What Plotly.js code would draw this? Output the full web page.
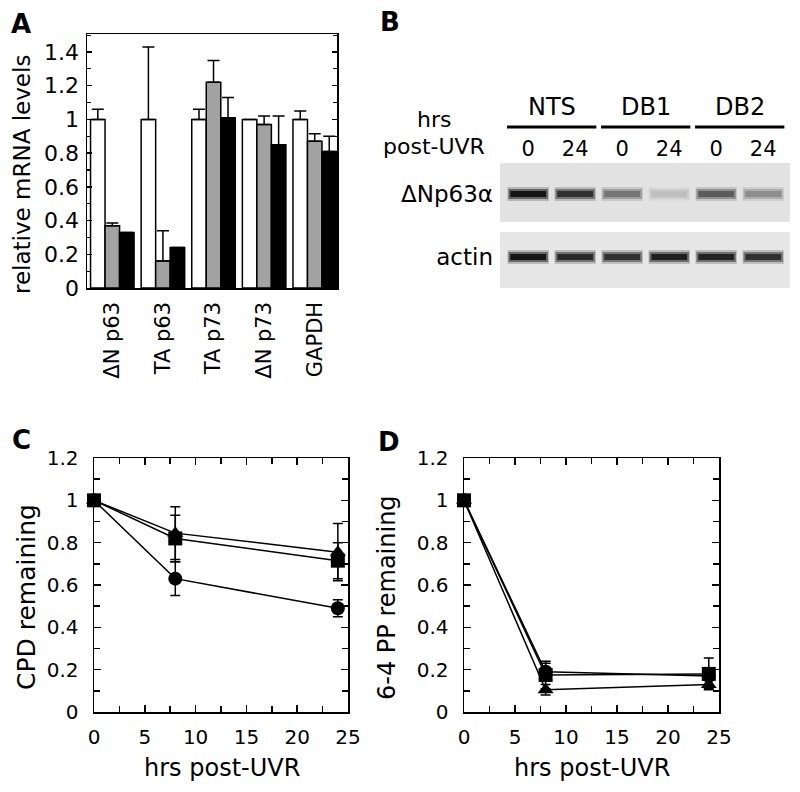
<!DOCTYPE html>
<html><head><meta charset="utf-8">
<script src="https://cdn.plot.ly/plotly-3.0.1.min.js"></script>
<style>body{margin:0;background:#fff}</style>
</head><body><div id="chart" style="width:800px;height:792px"></div>
<script>
// ---------- Panel A: relative mRNA levels ----------
const genes = ["ΔN p63", "TA p63", "TA p73", "ΔN p73", "GAPDH"];
const mrnaWhite    = [1.00, 1.00, 1.00, 1.00, 1.00];
const mrnaWhiteErr = [0.06, 0.43, 0.06, 0.00, 0.05];
const mrnaGray     = [0.37, 0.16, 1.22, 0.97, 0.87];
const mrnaGrayErr  = [0.015, 0.18, 0.13, 0.05, 0.045];
const mrnaBlack    = [0.33, 0.24, 1.01, 0.85, 0.81];
const mrnaBlackErr = [0.00, 0.00, 0.12, 0.17, 0.09];

// ---------- Panel B: western blot ----------
const laneGroups = ["NTS", "DB1", "DB2"];
const laneHours  = ["0", "24", "0", "24", "0", "24"];
const blotRows   = ["ΔNp63α", "actin"];
const dNp63Band  = [0.95, 0.82, 0.50, 0.15, 0.62, 0.38];
const actinBand  = [0.95, 0.85, 0.82, 0.90, 0.88, 0.82];

// ---------- Panels C and D ----------
const hours = [0, 8, 24];
const cpdCircle      = [1.00, 0.63, 0.49];
const cpdCircleErr   = [0.00, 0.08, 0.04];
const cpdTriangle    = [1.00, 0.845, 0.755];
const cpdTriangleErr = [0.00, 0.125, 0.135];
const cpdSquare      = [1.00, 0.82, 0.715];
const cpdSquareErr   = [0.00, 0.11, 0.085];

const ppCircle      = [1.00, 0.19, 0.17];
const ppCircleErr   = [0.00, 0.04, 0.02];
const ppTriangle    = [1.00, 0.105, 0.13];
const ppTriangleErr = [0.00, 0.025, 0.02];
const ppSquare      = [1.00, 0.175, 0.18];
const ppSquareErr   = [0.00, 0.065, 0.075];

const FONT = "DejaVu Sans, Arial, sans-serif";
const W = 800, H = 792;
const px = v => v / W;
const py = v => 1 - v / H;

const traces = [];
const zeros = genes.map(() => 0);
function barTrace(vals, errs, color) {
  return {
    type: "bar", x: genes, y: vals, xaxis: "x", yaxis: "y",
    marker: {color: color, line: {color: "#000", width: 1.5}},
    error_y: {type: "data", symmetric: false, array: errs, arrayminus: zeros,
              color: "#000", thickness: 1.5, width: 6},
    showlegend: false, hoverinfo: "skip"
  };
}
traces.push(barTrace(mrnaWhite, mrnaWhiteErr, "#ffffff"));
traces.push(barTrace(mrnaGray, mrnaGrayErr, "rgb(162,162,162)"));
traces.push(barTrace(mrnaBlack, mrnaBlackErr, "#000000"));

// blot bands (soft edges built from stacked strokes)
const bandLayers = [
  {half: 0.44, width: 14, opacity: 0.22},
  {half: 0.42, width: 10, opacity: 0.5},
  {half: 0.38, width: 6, opacity: 1}
];
function bandTraces(intensities, row) {
  intensities.forEach((v, i) => {
    const g = Math.round(222 - 212 * v);
    const col = `rgb(${g},${g},${g})`;
    bandLayers.forEach(L => {
      traces.push({type: "scatter", mode: "lines", x: [i - L.half, i + L.half], y: [row, row],
        xaxis: "x2", yaxis: "y2", line: {color: col, width: L.width}, opacity: L.opacity,
        showlegend: false, hoverinfo: "skip"});
    });
  });
}
bandTraces(dNp63Band, 0);
bandTraces(actinBand, 1);

function lineTrace(xa, ya, yv, ev, symbol, size) {
  return {
    type: "scatter", mode: "lines+markers", x: hours, y: yv, xaxis: xa, yaxis: ya,
    line: {color: "#000", width: 1.5},
    marker: {symbol: symbol, size: size, color: "#000"},
    error_y: {type: "data", array: ev, visible: true, color: "#000", thickness: 1.5, width: 5},
    cliponaxis: false, showlegend: false, hoverinfo: "skip"
  };
}
traces.push(lineTrace("x3", "y3", cpdCircle, cpdCircleErr, "circle", 14));
traces.push(lineTrace("x3", "y3", cpdTriangle, cpdTriangleErr, "triangle-up", 14));
traces.push(lineTrace("x3", "y3", cpdSquare, cpdSquareErr, "square", 14));
traces.push(lineTrace("x4", "y4", ppCircle, ppCircleErr, "circle", 14));
traces.push(lineTrace("x4", "y4", ppTriangle, ppTriangleErr, "triangle-up", 14));
traces.push(lineTrace("x4", "y4", ppSquare, ppSquareErr, "square", 14));

const tickFont = {family: FONT, size: 20, color: "#000"};
function xyAxis(domain, extra) {
  return Object.assign({
    domain: domain, showline: true, linecolor: "#000", linewidth: 1.5, mirror: "ticks",
    ticks: "inside", ticklen: 7, tickwidth: 1.5, tickcolor: "#000",
    showgrid: false, zeroline: false, tickfont: tickFont, fixedrange: true
  }, extra);
}

const cDomX = [px(94), px(348)], dDomX = [px(464), px(719)];
const cdDomY = [py(712), py(458)];

const annotations = [];
function ann(text, x, y, size, opts) {
  annotations.push(Object.assign({text: text, x: x, y: y, xref: "paper", yref: "paper",
    xanchor: "center", yanchor: "middle", showarrow: false,
    font: {family: FONT, size: size, color: "#000"}}, opts || {}));
}
ann("<b>A</b>", px(21), py(24), 26);
ann("<b>B</b>", px(390), py(22), 26);
ann("<b>C</b>", px(21), py(440), 26);
ann("<b>D</b>", px(389), py(442), 26);
ann("relative mRNA levels", px(22), py(175), 23, {textangle: -90});
ann("CPD remaining", px(26), py(597), 25, {textangle: -90});
ann("6-4 PP remaining", px(387), py(598), 24, {textangle: -90});
ann("hrs post-UVR", px(222), py(768), 24);
ann("hrs post-UVR", px(592), py(768), 24);
ann("hrs", px(434), py(120), 22);
ann("post-UVR", px(434), py(147), 22);
laneGroups.forEach((g, k) => {
  annotations.push({text: g, x: 2 * k + 0.5, y: py(107), xref: "x2", yref: "paper",
    xanchor: "center", yanchor: "middle", showarrow: false,
    font: {family: FONT, size: 24, color: "#000"}});
});

const shapes = [
  {type: "rect", xref: "x2 domain", yref: "y2", x0: 0, x1: 1, y0: -0.49, y1: 0.444,
   fillcolor: "rgb(226,226,226)", line: {width: 0}, layer: "below"},
  {type: "rect", xref: "x2 domain", yref: "y2", x0: 0, x1: 1, y0: 0.603, y1: 1.49,
   fillcolor: "rgb(231,231,231)", line: {width: 0}, layer: "below"}
];
laneGroups.forEach((g, k) => {
  shapes.push({type: "line", xref: "x2", yref: "paper", x0: 2 * k + 0.5 - 0.95, x1: 2 * k + 0.5 + 0.95,
    y0: py(127), y1: py(127), line: {color: "#000", width: 3}});
});

const layout = {
  width: W, height: H, margin: {l: 0, r: 0, t: 0, b: 0},
  paper_bgcolor: "#fff", plot_bgcolor: "rgba(0,0,0,0)",
  font: {family: FONT, color: "#000"},
  barmode: "group", bargap: 0.14, bargroupgap: 0,
  showlegend: false,
  xaxis: {domain: [px(87), px(337)], anchor: "y", type: "category", range: [-0.5, 4.44],
    showline: true, linecolor: "#000", linewidth: 1.5, mirror: true, ticks: "",
    tickangle: -90, tickfont: {family: FONT, size: 21, color: "#000"}, showgrid: false,
    zeroline: false, ticklabelstandoff: 4, fixedrange: true},
  yaxis: xyAxis([py(288), py(34)], {anchor: "x", range: [0, 1.507], tick0: 0, dtick: 0.2,
    ticklen: 5, tickfont: {family: FONT, size: 22, color: "#000"},
    minor: {dtick: 0.1, ticks: "inside", ticklen: 4, tickwidth: 1.2, tickcolor: "#000"},
    ticklabelstandoff: 2}),
  xaxis2: {domain: [px(500), px(790)], anchor: "y2", range: [-0.6, 5.57], side: "top",
    tickmode: "array", tickvals: laneHours.map((_, i) => i), ticktext: laneHours,
    ticks: "", showline: false, showgrid: false, zeroline: false,
    tickfont: {family: FONT, size: 21, color: "#000"}, ticklabelstandoff: 2, fixedrange: true},
  yaxis2: {domain: [py(288), py(163)], anchor: "x2", range: [1.49, -0.49],
    tickmode: "array", tickvals: blotRows.map((_, i) => i), ticktext: blotRows,
    ticks: "", showline: false, showgrid: false, zeroline: false,
    tickfont: {family: FONT, size: 23, color: "#000"}, ticklabelstandoff: 6, fixedrange: true},
  xaxis3: xyAxis(cDomX, {anchor: "y3", range: [0, 25], dtick: 5, tick0: 0,
    minor: {dtick: 2.5, ticks: "inside", ticklen: 6, tickwidth: 1.5, tickcolor: "#000"}, ticklabelstandoff: 6}),
  yaxis3: xyAxis(cdDomY, {anchor: "x3", range: [0, 1.2], dtick: 0.2, tick0: 0,
    minor: {dtick: 0.1, ticks: "inside", ticklen: 6, tickwidth: 1.5, tickcolor: "#000"}, ticklabelstandoff: 10}),
  xaxis4: xyAxis(dDomX, {anchor: "y4", range: [0, 25], dtick: 5, tick0: 0,
    minor: {dtick: 2.5, ticks: "inside", ticklen: 6, tickwidth: 1.5, tickcolor: "#000"}, ticklabelstandoff: 6}),
  yaxis4: xyAxis(cdDomY, {anchor: "x4", range: [0, 1.2], dtick: 0.2, tick0: 0,
    minor: {dtick: 0.1, ticks: "inside", ticklen: 6, tickwidth: 1.5, tickcolor: "#000"}, ticklabelstandoff: 10}),
  annotations: annotations,
  shapes: shapes
};

Plotly.newPlot("chart", traces, layout, {displayModeBar: false, staticPlot: true});
</script>
</body></html>
